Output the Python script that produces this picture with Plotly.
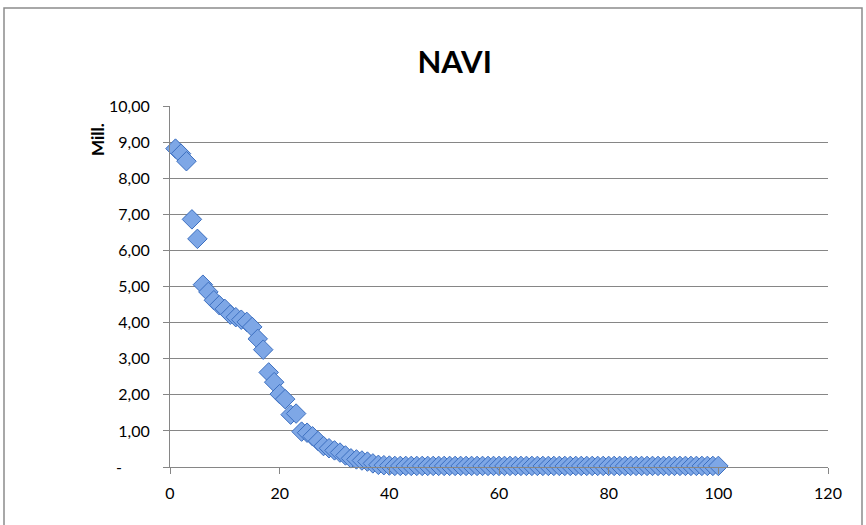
import plotly.graph_objects as go

# Observation index and NAVI value (millions)
obs = list(range(1, 101))
navi_mill = [
    8.82, 8.68, 8.47, 6.86, 6.32, 5.05, 4.85, 4.62, 4.48, 4.38,
    4.22, 4.15, 4.08, 4.02, 3.88, 3.55, 3.25, 2.62, 2.35, 2.02,
    1.88, 1.45, 1.48, 0.98, 0.95, 0.85, 0.72, 0.58, 0.52, 0.46,
    0.40, 0.32, 0.24, 0.21, 0.18, 0.15, 0.10, 0.06, 0.05, 0.04,
] + [0.03] * 60

y_ticks = [0, 1, 2, 3, 4, 5, 6, 7, 8, 9, 10]
# accounting-style zero: dash padded with figure spaces
y_tick_text = ["-\u2007\u2007\u2007", "1,00", "2,00", "3,00", "4,00", "5,00",
               "6,00", "7,00", "8,00", "9,00", "10,00"]
x_ticks = [0, 20, 40, 60, 80, 100, 120]

FONT = "Lato, Open Sans, sans-serif"
GRID = "#868686"

fig = go.Figure()
fig.add_trace(go.Scatter(
    x=obs, y=navi_mill, mode="markers",
    marker=dict(symbol="diamond", size=15, color="#7ea7e6",
                line=dict(color="#3c6fc0", width=1)),
    cliponaxis=False, showlegend=False,
))

fig.update_layout(
    width=866, height=525,
    margin=dict(l=170, r=38, t=106, b=58),
    paper_bgcolor="white", plot_bgcolor="white",
    font=dict(family=FONT, size=16, color="#000000"),
    title=dict(text="<b>NAVI</b>", x=0.525, xanchor="center",
               y=1 - 62 / 525, yanchor="middle",
               font=dict(family=FONT, size=31, color="#000000")),
    xaxis=dict(range=[0, 120], tickvals=x_ticks, showgrid=False,
               zeroline=False, showline=True, linecolor=GRID, linewidth=1,
               ticks="outside", ticklen=6, tickcolor=GRID,
               ticklabelstandoff=6,
               tickfont=dict(family=FONT, size=16)),
    yaxis=dict(range=[0, 10], tickvals=y_ticks, ticktext=y_tick_text,
               showgrid=True, gridcolor=GRID, gridwidth=1,
               zeroline=False, showline=True, linecolor=GRID, linewidth=1,
               ticks="outside", ticklen=6, tickcolor=GRID,
               ticklabelstandoff=10,
               tickfont=dict(family=FONT, size=16)),
    shapes=[dict(type="rect", xref="paper", yref="paper",
                 x0=-166 / 658, x1=(862 - 170) / 658,
                 y0=-0.3, y1=(467 - 8) / 361,
                 line=dict(color="#8c8c8c", width=1.5))],
    annotations=[dict(text="<b>Mill.</b>", xref="paper", yref="paper",
                      x=-73 / 658, y=(467 - 140) / 361, textangle=-90,
                      showarrow=False, xanchor="center", yanchor="middle",
                      font=dict(family=FONT, size=17, color="#000000"))],
)

fig.write_html("out.html")
